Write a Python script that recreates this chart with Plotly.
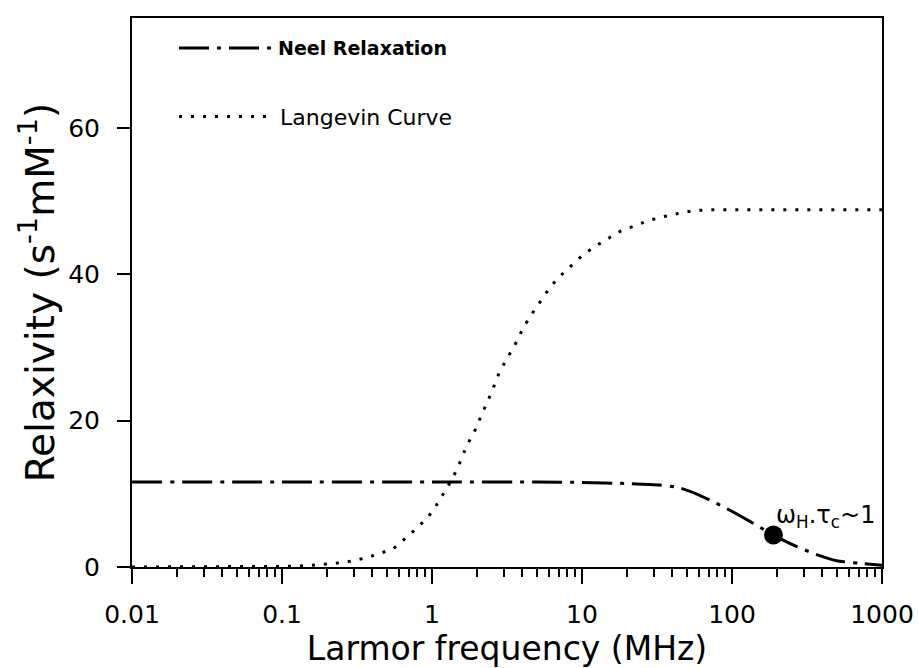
import numpy as np
import plotly.graph_objects as go

# Axis ticks
freq_ticks = [0.01, 0.1, 1, 10, 100, 1000]
freq_tick_labels = ["0.01", "0.1", "1", "10", "100", "1000"]
relax_ticks = [0, 20, 40, 60]

# Neel relaxation (MHz, s^-1 mM^-1)
neel_freq = [0.01, 0.1, 1, 5, 10, 20, 33, 45, 61, 75, 92, 120, 146, 189, 257, 348, 497, 712, 1000]
neel_relax = [11.6, 11.6, 11.6, 11.6, 11.55, 11.4, 11.2, 10.8, 9.8, 8.9, 8.0, 6.7, 5.7, 4.36, 3.0, 1.87, 0.86, 0.5, 0.25]

# Langevin curve (MHz, s^-1 mM^-1)
lang_freq = [0.01, 0.05, 0.1, 0.15, 0.18, 0.25, 0.30, 0.37, 0.45, 0.552, 0.644, 0.79, 0.945,
             1.07, 1.22, 1.35, 1.50, 1.62, 1.77, 1.96, 2.11, 2.50, 2.81, 3.28, 3.67, 4.02,
             4.50, 5.17, 5.80, 6.85, 8.32, 10.1, 12.2, 14.9, 18.1, 21.8, 26.7, 32.2, 38.6,
             47.3, 57.5, 69.6, 100, 1000]
lang_relax = [0, 0.02, 0.08, 0.18, 0.3, 0.6, 0.86, 1.3, 1.86, 2.5, 3.68, 5.27, 6.86,
              8.45, 10.36, 11.86, 13.77, 15.5, 17.2, 18.9, 20.5, 23.9, 26.6, 29.1, 30.8, 32.5,
              34.2, 36.0, 37.5, 39.4, 41.0, 42.6, 43.8, 44.9, 45.9, 46.5, 47.2, 47.7, 48.1,
              48.45, 48.7, 48.8, 48.8, 48.8]

# Point where omega_H * tau_c ~ 1
cross_freq = [189]
cross_relax = [4.36]

FONT = "DejaVu Sans"

fig = go.Figure()
fig.add_trace(go.Scatter(
    x=neel_freq, y=neel_relax, mode="lines", name="Neel Relaxation",
    line=dict(color="black", width=3, dash="30px,8px,4px,8px", shape="spline", smoothing=0.6),
    legend="legend",
))
fig.add_trace(go.Scatter(
    x=lang_freq, y=lang_relax, mode="lines", name="Langevin Curve",
    line=dict(color="black", width=3, dash="3px,9px"),
    legend="legend2",
))
fig.add_trace(go.Scatter(
    x=cross_freq, y=cross_relax, mode="markers",
    marker=dict(size=19, color="black"), showlegend=False,
))

fig.add_annotation(
    x=np.log10(cross_freq[0]), y=cross_relax[0], xref="x", yref="y",
    text="ω<sub>H</sub>.τ<sub>c</sub>~1", showarrow=False,
    xanchor="left", yanchor="bottom", xshift=1, yshift=1,
    font=dict(family=FONT, size=24, color="black"),
)

fig.update_layout(
    width=918, height=668,
    margin=dict(l=132, r=36, t=18, b=101, autoexpand=False),
    plot_bgcolor="white", paper_bgcolor="white",
    font=dict(family=FONT, color="black"),
    showlegend=True,
    legend=dict(
        x=0.056, y=0.945, xanchor="left", yanchor="middle",
        itemwidth=94, bgcolor="rgba(0,0,0,0)",
        font=dict(family=FONT, size=19, weight="bold", color="black"),
    ),
    legend2=dict(
        x=0.056, y=0.82, xanchor="left", yanchor="middle",
        itemwidth=96, bgcolor="rgba(0,0,0,0)",
        font=dict(family=FONT, size=22, color="black"),
    ),
)

fig.update_xaxes(
    type="log", range=[-2, 3], automargin=False,
    tickmode="array", tickvals=freq_ticks, ticktext=freq_tick_labels,
    ticks="outside", ticklen=15, tickwidth=1.5, tickcolor="black",
    ticklabelstandoff=9,
    showline=True, linewidth=2, linecolor="black", mirror=True,
    showgrid=False, zeroline=False,
    tickfont=dict(family=FONT, size=25, color="black"),
    minor=dict(ticks="outside", ticklen=8, tickwidth=1.5, tickcolor="black",
               dtick="D1", showgrid=False),
    title=dict(text="Larmor frequency (MHz)", font=dict(family=FONT, size=33, color="black"),
               standoff=6),
)
fig.update_yaxes(
    range=[0, 75], automargin=False,
    tickmode="array", tickvals=relax_ticks,
    ticks="outside", ticklen=13, tickwidth=1.5, tickcolor="black",
    ticklabelstandoff=12,
    showline=True, linewidth=2, linecolor="black", mirror=True,
    showgrid=False, zeroline=False,
    tickfont=dict(family=FONT, size=25, color="black"),
    title=dict(text="Relaxivity (s<sup>-1</sup>mM<sup>-1</sup>)",
               font=dict(family=FONT, size=39, color="black"), standoff=2),
)

fig.write_html("out.html")
